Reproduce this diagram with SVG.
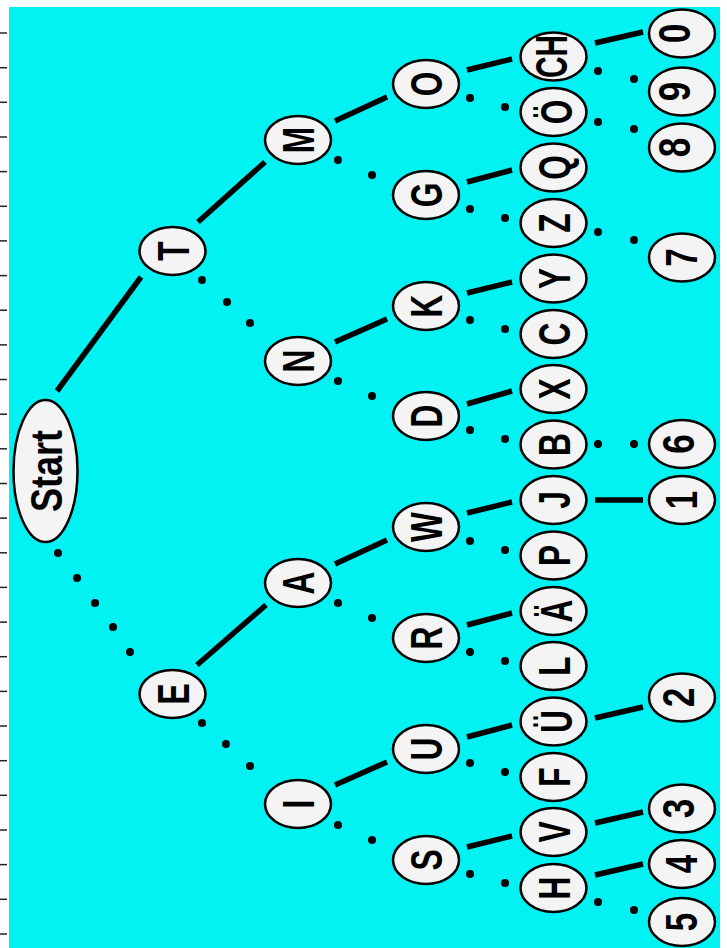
<svg xmlns="http://www.w3.org/2000/svg" width="727" height="948" viewBox="0 0 727 948">
<style>
.n ellipse{fill:#f4f4f4;stroke:#000;stroke-width:2.5}
.n text{font-family:"Liberation Sans",Arial,sans-serif;font-weight:bold;font-size:44px;text-anchor:middle;fill:#000}
.s{stroke:#000;stroke-width:5.5;stroke-linecap:butt;fill:none}
.d{fill:#000}
.tick{stroke:#222;stroke-width:1.5}
</style>
<rect x="0" y="0" width="727" height="948" fill="#fff"/>
<rect x="9" y="7" width="711" height="941" fill="#00f2f2"/>
<g id="ticks" class="tick">
<line x1="0" y1="33" x2="7" y2="33"/><line x1="0" y1="67.7" x2="7" y2="67.7"/><line x1="0" y1="102.3" x2="7" y2="102.3"/><line x1="0" y1="137" x2="7" y2="137"/><line x1="0" y1="171.6" x2="7" y2="171.6"/><line x1="0" y1="206.3" x2="7" y2="206.3"/><line x1="0" y1="240.9" x2="7" y2="240.9"/><line x1="0" y1="275.6" x2="7" y2="275.6"/><line x1="0" y1="310.2" x2="7" y2="310.2"/><line x1="0" y1="344.9" x2="7" y2="344.9"/><line x1="0" y1="379.5" x2="7" y2="379.5"/><line x1="0" y1="414.2" x2="7" y2="414.2"/><line x1="0" y1="448.8" x2="7" y2="448.8"/><line x1="0" y1="483.5" x2="7" y2="483.5"/><line x1="0" y1="518.1" x2="7" y2="518.1"/><line x1="0" y1="552.8" x2="7" y2="552.8"/><line x1="0" y1="587.4" x2="7" y2="587.4"/><line x1="0" y1="622.1" x2="7" y2="622.1"/><line x1="0" y1="656.7" x2="7" y2="656.7"/><line x1="0" y1="691.4" x2="7" y2="691.4"/><line x1="0" y1="726" x2="7" y2="726"/><line x1="0" y1="760.7" x2="7" y2="760.7"/><line x1="0" y1="795.3" x2="7" y2="795.3"/><line x1="0" y1="830" x2="7" y2="830"/><line x1="0" y1="864.6" x2="7" y2="864.6"/><line x1="0" y1="899.3" x2="7" y2="899.3"/><line x1="0" y1="934" x2="7" y2="934"/>
</g>
<g id="connectors">
<g class="s">
<line x1="57" y1="391" x2="141" y2="277"/>
<line x1="198" y1="222" x2="265" y2="162"/>
<line x1="197" y1="665" x2="266" y2="605"/>
<line x1="335" y1="121" x2="387" y2="97"/>
<line x1="335" y1="342" x2="387" y2="319"/>
<line x1="335" y1="564" x2="387" y2="540"/>
<line x1="335" y1="785" x2="387" y2="762"/>
<line x1="467" y1="70" x2="512" y2="59"/>
<line x1="467" y1="182" x2="512" y2="170"/>
<line x1="467" y1="293" x2="512" y2="282"/>
<line x1="467" y1="404" x2="512" y2="391"/>
<line x1="467" y1="513" x2="512" y2="502"/>
<line x1="467" y1="625" x2="512" y2="613"/>
<line x1="467" y1="737" x2="512" y2="725"/>
<line x1="467" y1="847" x2="512" y2="836"/>
<line x1="595" y1="43" x2="643" y2="32"/>
<line x1="595" y1="500" x2="643" y2="500"/>
<line x1="595" y1="718" x2="643" y2="707"/>
<line x1="595" y1="823" x2="643" y2="812"/>
<line x1="595" y1="875" x2="643" y2="864"/>
</g>
<g class="d">
<circle cx="58" cy="553" r="4"/><circle cx="77" cy="578" r="4"/><circle cx="95" cy="603" r="4"/><circle cx="113" cy="627" r="4"/><circle cx="130" cy="652" r="4"/>
<circle cx="202" cy="280" r="4"/><circle cx="227" cy="302" r="4"/><circle cx="250" cy="323" r="4"/>
<circle cx="202" cy="723" r="4"/><circle cx="226" cy="744" r="4"/><circle cx="250" cy="766" r="4"/>
<circle cx="338" cy="160" r="4"/><circle cx="372" cy="175" r="4"/>
<circle cx="338" cy="381" r="4"/><circle cx="372" cy="396" r="4"/>
<circle cx="338" cy="603" r="4"/><circle cx="372" cy="618" r="4"/>
<circle cx="338" cy="825" r="4"/><circle cx="372" cy="840" r="4"/>
<circle cx="470" cy="98" r="4"/><circle cx="505" cy="107" r="4"/>
<circle cx="470" cy="209" r="4"/><circle cx="505" cy="218" r="4"/>
<circle cx="470" cy="320" r="4"/><circle cx="505" cy="329" r="4"/>
<circle cx="470" cy="430" r="4"/><circle cx="505" cy="439" r="4"/>
<circle cx="470" cy="541" r="4"/><circle cx="505" cy="550" r="4"/>
<circle cx="470" cy="652" r="4"/><circle cx="505" cy="661" r="4"/>
<circle cx="470" cy="763" r="4"/><circle cx="505" cy="772" r="4"/>
<circle cx="470" cy="874" r="4"/><circle cx="505" cy="883" r="4"/>
<circle cx="598" cy="71" r="4"/><circle cx="634" cy="79" r="4"/>
<circle cx="598" cy="122" r="4"/><circle cx="634" cy="129" r="4"/>
<circle cx="598" cy="232" r="4"/><circle cx="634" cy="240" r="4"/>
<circle cx="598" cy="444" r="4"/><circle cx="634" cy="444" r="4"/>
<circle cx="598" cy="902" r="4"/><circle cx="634" cy="910" r="4"/>
</g>
</g>
<g id="start" class="n"><ellipse cx="45.5" cy="471" rx="32" ry="71"/><text transform="translate(45.5,471) rotate(-90) scale(0.82,1)" y="16" font-size="46">Start</text></g>
<g id="T" class="n"><ellipse cx="172.5" cy="251" rx="33" ry="24"/><text transform="translate(172.5,251) rotate(-90) scale(0.72,1)" y="16">T</text></g>
<g id="E" class="n"><ellipse cx="172.5" cy="694" rx="33" ry="24"/><text transform="translate(172.5,694) rotate(-90) scale(0.72,1)" y="16">E</text></g>
<g id="M" class="n"><ellipse cx="298" cy="140" rx="33" ry="24"/><text transform="translate(298,140) rotate(-90) scale(0.72,1)" y="16">M</text></g>
<g id="N" class="n"><ellipse cx="298" cy="361" rx="33" ry="24"/><text transform="translate(298,361) rotate(-90) scale(0.72,1)" y="16">N</text></g>
<g id="A" class="n"><ellipse cx="298" cy="583" rx="33" ry="24"/><text transform="translate(298,583) rotate(-90) scale(0.72,1)" y="16">A</text></g>
<g id="I" class="n"><ellipse cx="298" cy="804" rx="33" ry="24"/><text transform="translate(298,804) rotate(-90) scale(0.72,1)" y="16">I</text></g>
<g id="O" class="n"><ellipse cx="426" cy="84" rx="33" ry="24"/><text transform="translate(426,84) rotate(-90) scale(0.72,1)" y="16">O</text></g>
<g id="G" class="n"><ellipse cx="426" cy="195" rx="33" ry="24"/><text transform="translate(426,195) rotate(-90) scale(0.72,1)" y="16">G</text></g>
<g id="K" class="n"><ellipse cx="426" cy="306" rx="33" ry="24"/><text transform="translate(426,306) rotate(-90) scale(0.72,1)" y="16">K</text></g>
<g id="D" class="n"><ellipse cx="426" cy="416" rx="33" ry="24"/><text transform="translate(426,416) rotate(-90) scale(0.72,1)" y="16">D</text></g>
<g id="W" class="n"><ellipse cx="426" cy="527" rx="33" ry="24"/><text transform="translate(426,527) rotate(-90) scale(0.72,1)" y="16">W</text></g>
<g id="R" class="n"><ellipse cx="426" cy="638" rx="33" ry="24"/><text transform="translate(426,638) rotate(-90) scale(0.72,1)" y="16">R</text></g>
<g id="U" class="n"><ellipse cx="426" cy="749" rx="33" ry="24"/><text transform="translate(426,749) rotate(-90) scale(0.72,1)" y="16">U</text></g>
<g id="S" class="n"><ellipse cx="426" cy="860" rx="33" ry="24"/><text transform="translate(426,860) rotate(-90) scale(0.72,1)" y="16">S</text></g>
<g id="CH" class="n"><ellipse cx="553.5" cy="56.5" rx="33" ry="24"/><text transform="translate(553.5,56.5) rotate(-90) scale(0.68,1)" y="13" font-size="37">CH</text></g>
<g id="OE" class="n"><ellipse cx="553.5" cy="112" rx="33" ry="24"/><text transform="translate(553.5,112) rotate(-90) scale(0.72,1)" y="18">Ö</text></g>
<g id="Q" class="n"><ellipse cx="553.5" cy="167.5" rx="33" ry="24"/><text transform="translate(553.5,167.5) rotate(-90) scale(0.72,1)" y="16">Q</text></g>
<g id="Z" class="n"><ellipse cx="553.5" cy="223" rx="33" ry="24"/><text transform="translate(553.5,223) rotate(-90) scale(0.72,1)" y="16">Z</text></g>
<g id="Y" class="n"><ellipse cx="553.5" cy="278.5" rx="33" ry="24"/><text transform="translate(553.5,278.5) rotate(-90) scale(0.72,1)" y="16">Y</text></g>
<g id="C" class="n"><ellipse cx="553.5" cy="334" rx="33" ry="24"/><text transform="translate(553.5,334) rotate(-90) scale(0.72,1)" y="16">C</text></g>
<g id="X" class="n"><ellipse cx="553.5" cy="389" rx="33" ry="24"/><text transform="translate(553.5,389) rotate(-90) scale(0.72,1)" y="16">X</text></g>
<g id="B" class="n"><ellipse cx="553.5" cy="444.5" rx="33" ry="24"/><text transform="translate(553.5,444.5) rotate(-90) scale(0.72,1)" y="16">B</text></g>
<g id="J" class="n"><ellipse cx="553.5" cy="500" rx="33" ry="24"/><text transform="translate(553.5,500) rotate(-90) scale(0.72,1)" y="16">J</text></g>
<g id="P" class="n"><ellipse cx="553.5" cy="555.5" rx="33" ry="24"/><text transform="translate(553.5,555.5) rotate(-90) scale(0.72,1)" y="16">P</text></g>
<g id="AE" class="n"><ellipse cx="553.5" cy="611" rx="33" ry="24"/><text transform="translate(553.5,611) rotate(-90) scale(0.72,1)" y="18">Ä</text></g>
<g id="L" class="n"><ellipse cx="553.5" cy="666" rx="33" ry="24"/><text transform="translate(553.5,666) rotate(-90) scale(0.72,1)" y="16">L</text></g>
<g id="UE" class="n"><ellipse cx="553.5" cy="721.5" rx="33" ry="24"/><text transform="translate(553.5,721.5) rotate(-90) scale(0.72,1)" y="18">Ü</text></g>
<g id="F" class="n"><ellipse cx="553.5" cy="777" rx="33" ry="24"/><text transform="translate(553.5,777) rotate(-90) scale(0.72,1)" y="16">F</text></g>
<g id="V" class="n"><ellipse cx="553.5" cy="832" rx="33" ry="24"/><text transform="translate(553.5,832) rotate(-90) scale(0.72,1)" y="16">V</text></g>
<g id="H" class="n"><ellipse cx="553.5" cy="888" rx="33" ry="24"/><text transform="translate(553.5,888) rotate(-90) scale(0.72,1)" y="16">H</text></g>
<g id="d0" class="n"><ellipse cx="682" cy="33.5" rx="33" ry="24"/><text transform="translate(682,33.5) rotate(-90) scale(0.8,1)" y="7.5" font-size="21">0</text></g>
<g id="d9" class="n"><ellipse cx="682" cy="91.5" rx="33" ry="24"/><text transform="translate(682,91.5) rotate(-90) scale(0.8,1)" y="7.5" font-size="21">9</text></g>
<g id="d8" class="n"><ellipse cx="682" cy="147.5" rx="33" ry="24"/><text transform="translate(682,147.5) rotate(-90) scale(0.8,1)" y="7.5" font-size="21">8</text></g>
<g id="d7" class="n"><ellipse cx="682" cy="257.5" rx="33" ry="24"/><text transform="translate(682,257.5) rotate(-90) scale(0.75,1)" y="15" font-size="42">7</text></g>
<g id="d6" class="n"><ellipse cx="682" cy="444" rx="33" ry="24"/><text transform="translate(682,444) rotate(-90) scale(0.8,1)" y="12" font-size="34">6</text></g>
<g id="d1" class="n"><ellipse cx="682" cy="500" rx="33" ry="24"/><text transform="translate(682,500) rotate(-90) scale(0.75,1)" y="15" font-size="42">1</text></g>
<g id="d2" class="n"><ellipse cx="682" cy="697.5" rx="33" ry="24"/><text transform="translate(682,697.5) rotate(-90) scale(0.8,1)" y="12" font-size="34">2</text></g>
<g id="d3" class="n"><ellipse cx="682" cy="808.5" rx="33" ry="24"/><text transform="translate(682,808.5) rotate(-90) scale(0.8,1)" y="12" font-size="34">3</text></g>
<g id="d4" class="n"><ellipse cx="682" cy="864" rx="33" ry="24"/><text transform="translate(682,864) rotate(-90) scale(0.75,1)" y="15" font-size="42">4</text></g>
<g id="d5" class="n"><ellipse cx="682" cy="922" rx="33" ry="24"/><text transform="translate(682,922) rotate(-90) scale(0.75,1)" y="15" font-size="42">5</text></g>
</svg>
